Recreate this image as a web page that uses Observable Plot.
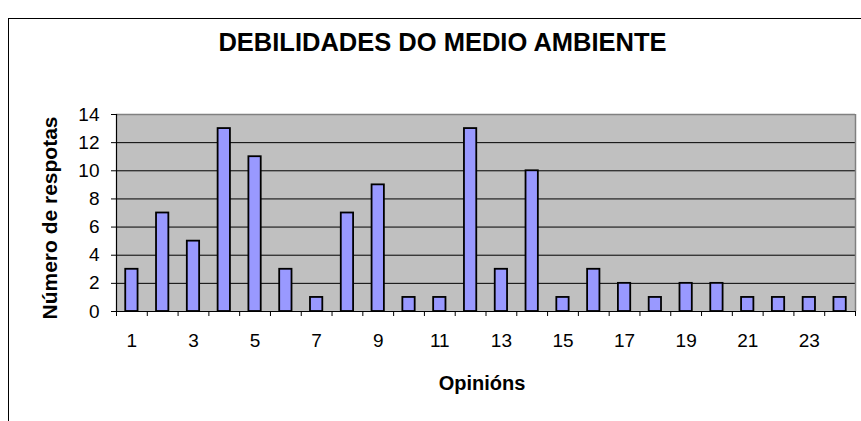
<!DOCTYPE html>
<html>
<head>
<meta charset="utf-8">
<script src="https://cdn.jsdelivr.net/npm/d3@7"></script>
<script src="https://cdn.jsdelivr.net/npm/@observablehq/plot@0.6"></script>
<style>
  body { margin: 0; background: #fff; }
  svg { display: block; }
</style>
</head>
<body>
<div id="chart"></div>
<script>
const opinions = [1, 2, 3, 4, 5, 6, 7, 8, 9, 10, 11, 12, 13, 14, 15, 16, 17, 18, 19, 20, 21, 22, 23, 24];
const responses = [3, 7, 5, 13, 11, 3, 1, 7, 9, 1, 1, 13, 3, 10, 1, 3, 2, 1, 2, 2, 1, 1, 1, 1];
const xTickLabels = [1, 3, 5, 7, 9, 11, 13, 15, 17, 19, 21, 23];
const yTicks = [0, 2, 4, 6, 8, 10, 12, 14];
const titleText = "DEBILIDADES DO MEDIO AMBIENTE";
const xLabel = "Opinións";
const yLabel = "Número de respotas";

const data = opinions.map((k, i) => ({k, v: responses[i]}));
const boundaries = [opinions[0] - 0.5, ...opinions.map(k => k + 0.5)];
const xMin = boundaries[0], xMax = boundaries[boundaries.length - 1];
const yMax = yTicks[yTicks.length - 1];

const font = "'Liberation Sans', Arial, sans-serif";

const chart = Plot.plot({
  width: 861,
  height: 421,
  marginLeft: 116,
  marginRight: 6,
  marginTop: 114,
  marginBottom: 110,
  style: {fontFamily: font, fontSize: "19px", color: "#000", background: "#fff", overflow: "hidden"},
  x: {type: "linear", domain: [xMin, xMax], axis: null, label: null},
  y: {domain: [0, yMax], axis: null, label: null},
  marks: [
    Plot.frame({fill: "#c0c0c0", stroke: null}),
    Plot.ruleY(yTicks.filter(t => t > 0 && t < yMax), {stroke: "#000", strokeWidth: 1}),
    Plot.ruleY([yMax], {stroke: "#808080", strokeWidth: 1.5}),
    Plot.ruleX([xMax], {stroke: "#808080", strokeWidth: 1.5}),
    Plot.rect(data, {x1: d => d.k - 0.2, x2: d => d.k + 0.2, y1: 0, y2: "v", fill: "#9999ff", stroke: "#000", strokeWidth: 1.8}),
    Plot.ruleY([0], {stroke: "#000", strokeWidth: 1.2}),
    Plot.ruleX([xMin], {stroke: "#000", strokeWidth: 1.2}),
    Plot.axisX({ticks: boundaries, tickSize: 5, tickFormat: () => "", stroke: "#000", label: null}),
    Plot.axisX({ticks: xTickLabels, tickSize: 0, tickPadding: 22, fontSize: 19, tickFormat: d => String(d), label: null}),
    Plot.axisY({ticks: yTicks, tickSize: 5, tickPadding: 12, fontSize: 19, stroke: "#000", tickFormat: d => String(d), label: null})
  ]
});

const svg = d3.select(chart);
svg.append("rect")
  .attr("x", 8.5).attr("y", 18.5)
  .attr("width", 1000).attr("height", 1000)
  .attr("fill", "none").attr("stroke", "#000").attr("stroke-width", 1);

svg.append("text")
  .attr("x", 442.5).attr("y", 51)
  .attr("text-anchor", "middle")
  .attr("font-family", font).attr("font-weight", "bold").attr("font-size", 25.5)
  .attr("fill", "#000")
  .text(titleText);

svg.append("text")
  .attr("x", 482).attr("y", 390)
  .attr("text-anchor", "middle")
  .attr("font-family", font).attr("font-weight", "bold").attr("font-size", 20)
  .attr("fill", "#000")
  .text(xLabel);

svg.append("text")
  .attr("transform", "translate(57,218) rotate(-90)")
  .attr("text-anchor", "middle")
  .attr("font-family", font).attr("font-weight", "bold").attr("font-size", 21)
  .attr("fill", "#000")
  .text(yLabel);

document.getElementById("chart").appendChild(chart);
</script>
</body>
</html>
